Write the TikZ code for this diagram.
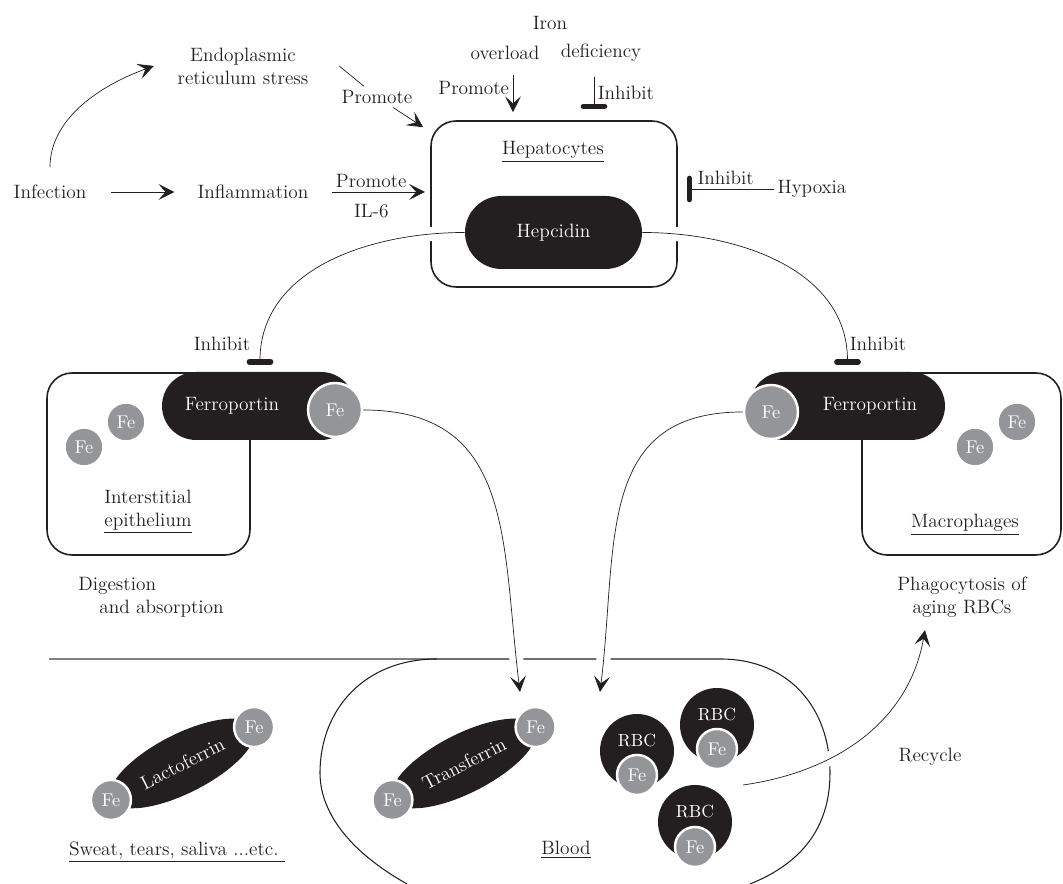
\documentclass[tikz,border=0pt]{standalone}
\usepackage{tikz}
\usetikzlibrary{positioning,shapes.geometric,arrows.meta}
\usepackage{xcolor}
\definecolor{ink}{HTML}{231F20}
\definecolor{fegray}{HTML}{939598}
\pgfdeclarelayer{front}
\pgfsetlayers{main,front}

\begin{document}
\begin{tikzpicture}[%
    x=0.02cm,y=0.02cm,color=ink,line width=0.8pt,
    >={Stealth[length=9pt,width=9pt,inset=4pt]},
    txt/.style={font=\fontsize{11}{13}\selectfont,text=ink,inner sep=2pt,align=center},
    cell/.style={draw,rounded corners=0.5cm,line width=0.9pt,inner sep=0pt},
    pill/.style={fill=ink,text=white,rounded corners=0.68cm,minimum height=1.36cm,
      font=\fontsize{11}{13}\selectfont,inner sep=0pt},
    iron/.style={circle,fill=fegray,draw=white,line width=1.4pt,text=white,
      font=\fontsize{10.5}{12}\selectfont,inner sep=0pt,minimum size=0.8cm},
    lens/.style={ellipse,fill=ink,text=white,rotate=27,minimum width=3.2cm,
      minimum height=1.18cm,inner sep=0pt,font=\fontsize{11}{13}\selectfont},
    rbc/.style={circle,fill=ink,minimum size=1.48cm,inner sep=0pt,
      label={[text=white,font=\fontsize{10}{12}\selectfont,yshift=0.2cm]center:RBC}},
    inh/.style={-{Bar[width=12pt,line width=3.2pt,round]}},
    halo/.style={preaction={draw,white,line width=8pt,-}}
  ]
    \useasboundingbox (0,0) rectangle (1063,884);

    \node[cell,minimum width=4.92cm,minimum height=3.32cm] (hep) at (554,680) {};
    \node[cell,minimum width=4.06cm,minimum height=3.64cm] (epi) at (148.5,420) {};
    \node[cell,minimum width=3.98cm,minimum height=3.64cm] (mac) at (961.5,420) {};

    \draw[gray,line width=1pt] (49,225) -- (437,225);
    \draw[line width=0.6pt] (407,0) .. controls (345,35) and (320,75) .. (320,111)
      .. controls (320,175) and (365,225) .. (437,225) -- (720,225)
      .. controls (790,225) and (830,175) .. (830,111)
      .. controls (830,55) and (800,20) .. (750,0);

    \begin{pgfonlayer}{front}
    \node[txt] (iron) at (550,861) {Iron};
    \node[txt] (ovl) at (505,831) {overload};
    \node[txt] (dfc) at (601,831) {deficiency};
    \node[txt] (heplab) at (553,732) {\underline{Hepatocytes}};
    \node[txt] (hyp) at (812,695) {Hypoxia};
    \node[txt] (inf) at (50,692) {Infection};
    \node[txt] (infl) at (253,692) {Inflammation};
    \node[txt] (er) at (243,818) {Endoplasmic\\reticulum stress};
    \node[txt] (prm2) at (377,787) {Promote};
    \node[txt] (inhl) at (222,540) {Inhibit};
    \node[txt] (inhr) at (878,540) {Inhibit};
    \node[txt] (epilab) at (148,372) {Interstitial\\\underline{epithelium}};
    \node[txt] (maclab) at (965,359) {\underline{Macrophages}};
    \node[txt,align=left] (dig) at (151,287) {Digestion\\\hspace*{12pt}and absorption};
    \node[txt] (pha) at (962,287) {Phagocytosis of\\aging RBCs};
    \node[txt] (rcl) at (930,127) {Recycle};
    \node[txt] (sweat) at (177,32) {\underline{Sweat, tears, saliva ...etc.\ }};
    \node[txt] (bld) at (566,34) {\underline{Blood}};

    \node[pill,minimum width=3.54cm,minimum height=1.46cm,rounded corners=0.73cm] (hepc)
      at (553.5,651.5) {Hepcidin};
    \node[pill,minimum width=3.86cm] (fpl) at (258.5,478) {\hspace*{-1.06cm}Ferroportin};
    \node[pill,minimum width=3.9cm] (fpr) at (847.5,478) {Ferroportin\hspace*{-0.9cm}};
    \node[iron,minimum size=1.08cm] (fel) at (335,474) {Fe};
    \node[iron,minimum size=1.08cm] (fer) at (771,472) {Fe};
    \node[iron,minimum size=0.78cm] (fe1) at (126,462) {Fe};
    \node[iron,minimum size=0.78cm] (fe2) at (84,437) {Fe};
    \node[iron,minimum size=0.78cm] (fe3) at (1017,462) {Fe};
    \node[iron,minimum size=0.78cm] (fe4) at (975,437) {Fe};

    \node[lens] (lf) at (182.5,120.5) {Lactoferrin};
    \node[iron] (lf1) at (lf.east) {Fe};
    \node[iron] (lf2) at (lf.west) {Fe};
    \node[lens] (tf) at (464,120.5) {Transferrin};
    \node[iron] (tf1) at (tf.east) {Fe};
    \node[iron] (tf2) at (tf.west) {Fe};

    \node[rbc] (rbc1) at (637,133) {};
    \node[iron] (rf1) at ([yshift=-0.48cm]rbc1.center) {Fe};
    \node[rbc] (rbc2) at (717,159) {};
    \node[iron] (rf2) at ([yshift=-0.48cm]rbc2.center) {Fe};
    \node[rbc] (rbc3) at (695,62) {};
    \node[iron] (rf3) at ([yshift=-0.5cm]rbc3.center) {Fe};
    \end{pgfonlayer}

    \coordinate (bl1) at (520,192);
    \coordinate (bl2) at (600,192);
    \coordinate (rcy) at (743,99);

    \draw[->] ([shift={(8,-11)}]ovl.south) -- ([shift={(-41,8)}]hep.north)
      node[txt,pos=0.36,left] (prmt) {Promote};
    \draw[inh] ([shift={(-7,-11)}]dfc.south) -- ([shift={(40,11)}]hep.north)
      node[txt,midway,right] (inht) {Inhibit};
    \draw[inh,shorten >=5pt] (hyp) -- (hyp -| hep.east)
      node[txt,midway,above] (inhh) {Inhibit};
    \draw[->,shorten <=8pt] (inf.north) to[out=90,in=200] ([xshift=-0.4cm]er.west);
    \draw[->,shorten <=12pt,shorten >=11pt] (inf) -- (infl);
    \draw[->,shorten <=11pt,shorten >=3pt] (infl) -- (infl -| hep.west)
      node[txt,midway,above] (prm1) {Promote}
      node[txt,midway,below=5pt] (il6) {IL-6};
    \draw ([xshift=0.54cm]er.east) -- (prm2);
    \draw[->] (prm2) -- ([shift={(-7,-7)}]hep.north west);

    \draw[halo,inh] (hepc.west) to[out=180,in=90] ([shift={(1.5,7)}]fpl.north);
    \draw[halo,inh] (hepc.east) to[out=0,in=90] ([shift={(0,7)}]fpr.north);
    \draw[halo,->] (fel.east) to[out=0,in=97,looseness=1.2] (bl1);
    \draw[halo,->] (fer.west) to[out=180,in=83,looseness=1.2] (bl2);
    \draw[halo,->] (rcy) to[out=8,in=-100] ([shift={(-37,-9)}]pha.south);
\end{tikzpicture}
\end{document}
